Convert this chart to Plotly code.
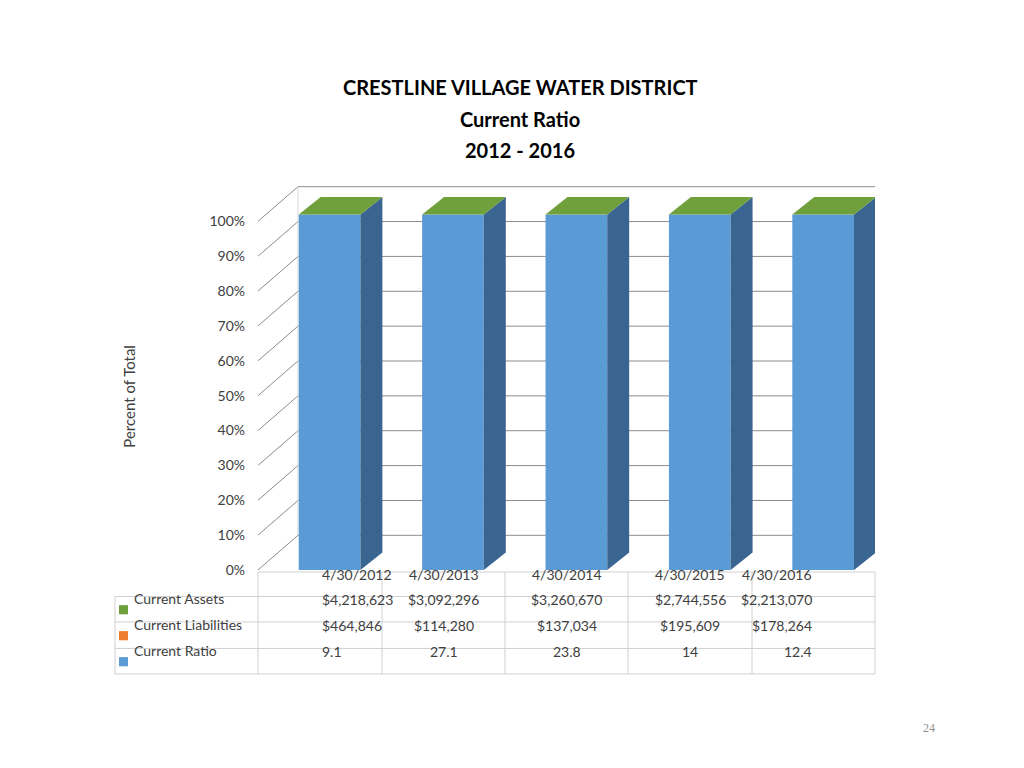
import plotly.graph_objects as go

dates = ["4/30/2012", "4/30/2013", "4/30/2014", "4/30/2015", "4/30/2016"]
current_assets = ["$4,218,623", "$3,092,296", "$3,260,670", "$2,744,556", "$2,213,070"]
current_liabilities = ["$464,846", "$114,280", "$137,034", "$195,609", "$178,264"]
current_ratio = ["9.1", "27.1", "23.8", "14", "12.4"]
ratio_share = [100, 100, 100, 100, 100]  # percent of total shown (blue)
yticks = [0, 10, 20, 30, 40, 50, 60, 70, 80, 90, 100]

W, H = 1024, 768
FONT = "Lato"
BLUE, SIDE, GREEN = "#5b9bd5", "#3a6591", "#70a03c"
GRID = "#8c8c8c"

# page-pixel -> paper (with measured render offset/scale compensation)
def px(x): return (x - 8) / W
def py(y): return 1 - ((y - 18.7) / 0.9708) / H

DX, DY = 0.324, 9.94
BW, BO = 0.5, 0.08
SX, SY = 0.178, 5.0
YMAX = 115
Y0PX, Y100PX = 570, 228
YTOPPX = Y0PX - (Y0PX - Y100PX) * YMAX / 100

fig = go.Figure()
fig.add_trace(go.Bar(x=[i + BO for i in range(5)], y=[v * 1.02 for v in ratio_share],
                     width=BW, marker=dict(color=BLUE, line=dict(width=0)), hoverinfo="skip"))
for i, v in enumerate(ratio_share):
    h = v * 1.02
    r = i + BO + BW / 2
    l = i + BO - BW / 2
    fig.add_trace(go.Scatter(x=[r, r + SX, r + SX, r, r], y=[0, SY, h + SY, h, 0],
                             fill="toself", fillcolor=SIDE, mode="lines",
                             line=dict(width=0, color=SIDE), hoverinfo="skip"))
    fig.add_trace(go.Scatter(x=[l, r, r + SX, l + SX, l], y=[h, h, h + SY, h + SY, h],
                             fill="toself", fillcolor=GREEN, mode="lines",
                             line=dict(width=0, color=GREEN), hoverinfo="skip"))

shapes = []
for t in yticks:
    shapes.append(dict(type="line", xref="x", yref="y", x0=-0.5, y0=t, x1=-0.5 + DX, y1=t + DY,
                       line=dict(color=GRID, width=1), layer="below"))
    shapes.append(dict(type="line", xref="x", yref="y", x0=-0.5 + DX, y0=t + DY, x1=4.5 + DX, y1=t + DY,
                       line=dict(color=GRID, width=1), layer="below"))
shapes.append(dict(type="line", xref="x", yref="y", x0=4.5, y0=0, x1=4.5 + DX, y1=DY,
                   line=dict(color="#bfbfbf", width=1), layer="below"))
shapes.append(dict(type="line", xref="x", yref="y", x0=-0.5 + DX, y0=DY, x1=-0.5 + DX, y1=100 + DY,
                   line=dict(color="#d9d9d9", width=1), layer="below"))

cols = [258, 382, 505, 628, 752, 875]
rows = [572, 596, 621, 647, 672]
TC = "#d0d0d0"
for x in cols:
    shapes.append(dict(type="line", xref="paper", yref="paper", x0=px(x), x1=px(x),
                       y0=py(rows[0]), y1=py(rows[-1]), line=dict(color=TC, width=1)))
shapes.append(dict(type="line", xref="paper", yref="paper", x0=px(115), x1=px(115),
                   y0=py(rows[1]), y1=py(rows[-1]), line=dict(color=TC, width=1)))
for j, y in enumerate(rows):
    x0 = 258 if j == 0 else 115
    shapes.append(dict(type="line", xref="paper", yref="paper", x0=px(x0), x1=px(875),
                       y0=py(y), y1=py(y), line=dict(color=TC, width=1)))

ann = []
tf = dict(family=FONT, size=14, color="#404040")
for k in range(5):
    cx = px((cols[k] + cols[k + 1]) / 2)
    for j, vals in enumerate([dates, current_assets, current_liabilities, current_ratio]):
        ann.append(dict(x=cx, y=py((rows[j] + rows[j + 1]) / 2 + 1), xref="paper", yref="paper",
                        text=vals[k], showarrow=False, font=tf))
legend = [("Current Assets", GREEN), ("Current Liabilities", "#ed7d31"), ("Current Ratio", BLUE)]
for j, (name, c) in enumerate(legend):
    yc = (rows[j + 1] + rows[j + 2]) / 2
    shapes.append(dict(type="rect", xref="paper", yref="paper", x0=px(119), x1=px(128),
                       y0=py(yc - 4), y1=py(yc + 5), fillcolor=c, line=dict(width=0)))
    ann.append(dict(x=px(132), y=py(yc), xref="paper", yref="paper", xanchor="left",
                    text=name, showarrow=False, font=tf))

tt = dict(family=FONT, size=20, color="black")
for text, y in [("<b>CRESTLINE VILLAGE WATER DISTRICT</b>", 96), ("<b>Current Ratio</b>", 128),
                ("<b>2012 - 2016</b>", 158)]:
    ann.append(dict(x=px(520), y=py(y - 14), xref="paper", yref="paper", text=text,
                    showarrow=False, font=tt))
ann.append(dict(x=px(118), y=py(400), xref="paper", yref="paper", text="Percent of Total",
                textangle=-90, showarrow=False, font=dict(family=FONT, size=15, color="#404040")))
ann.append(dict(x=px(937), y=py(734), xref="paper", yref="paper", text="24", showarrow=False,
                font=dict(family="Liberation Serif", size=12, color="#8c8c8c")))

fig.update_layout(
    width=W, height=H, margin=dict(l=0, r=0, t=0, b=0), showlegend=False,
    plot_bgcolor="rgba(0,0,0,0)", paper_bgcolor="white", shapes=shapes, annotations=ann,
    xaxis=dict(domain=[px(258), px(875)], range=[-0.5, 4.5], showgrid=False, zeroline=False,
               showticklabels=False, ticks=""),
    yaxis=dict(domain=[py(Y0PX), py(YTOPPX)], range=[0, YMAX], tickvals=yticks,
               ticktext=[f"{t}%" for t in yticks],
               showgrid=False, zeroline=False, ticks="", ticklabelstandoff=12,
               tickfont=dict(family=FONT, size=14, color="#404040")),
)
fig.write_html("out.html")
